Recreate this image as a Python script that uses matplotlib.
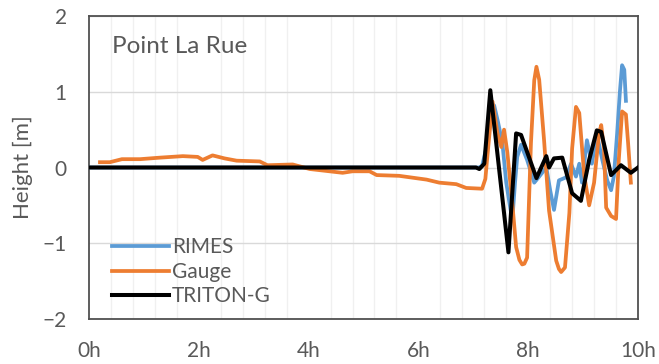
import numpy as np
import matplotlib
matplotlib.use("Agg")
import matplotlib.pyplot as plt

plt.rcParams['font.family'] = ['Lato', 'DejaVu Sans']

# time in hours, height in metres
rimes_t = [0.0, 7.10, 7.16, 7.25, 7.33, 7.38, 7.45, 7.53, 7.60, 7.71, 7.76, 7.80,
           7.87, 7.98, 8.11, 8.20, 8.33, 8.40, 8.47, 8.56, 8.69, 8.78, 8.87, 8.93,
           8.98, 9.07, 9.16, 9.25, 9.35, 9.44, 9.51, 9.56, 9.62, 9.67, 9.71, 9.75, 9.78]
rimes_h = [0.0, 0.0, 0.02, 0.30, 0.70, 0.82, 0.60, 0.32, -0.20, -0.70, -0.20, 0.14,
           0.30, 0.10, -0.20, -0.12, 0.00, -0.30, -0.56, -0.17, -0.13, 0.05, -0.12, 0.05,
           -0.20, 0.36, 0.05, 0.44, 0.10, -0.17, -0.30, -0.12, 0.45, 1.00, 1.35, 1.29, 0.88]

gauge_t = [0.20, 0.38, 0.60, 0.93, 1.29, 1.71, 1.98, 2.07, 2.25, 2.47, 2.69, 3.11,
           3.25, 3.71, 4.02, 4.38, 4.62, 4.80, 5.11, 5.24, 5.65, 6.15, 6.38, 6.69,
           6.87, 7.16, 7.22, 7.25, 7.35, 7.44, 7.51, 7.56, 7.62, 7.71, 7.78, 7.84, 7.89,
           7.93, 7.98, 8.05, 8.11, 8.15, 8.20, 8.29, 8.38, 8.51, 8.56, 8.60, 8.67, 8.75,
           8.80, 8.87, 8.93, 9.02, 9.11, 9.20, 9.29, 9.33, 9.38, 9.42, 9.51, 9.60,
           9.65, 9.71, 9.78, 9.82, 9.87]
gauge_h = [0.07, 0.07, 0.11, 0.11, 0.13, 0.15, 0.14, 0.10, 0.16, 0.12, 0.09, 0.08,
           0.03, 0.04, -0.02, -0.05, -0.07, -0.05, -0.05, -0.10, -0.11, -0.16, -0.20, -0.22,
           -0.27, -0.28, -0.15, 0.10, 0.87, 0.45, 0.27, 0.50, 0.20, -0.47, -1.05, -1.22, -1.28,
           -1.27, -1.19, 0.32, 1.15, 1.33, 1.16, 0.35, -0.57, -1.23, -1.34, -1.38, -1.32, -0.60,
           0.25, 0.80, 0.72, -0.10, -0.50, -0.20, 0.45, 0.56, 0.25, -0.53, -0.64, -0.68,
           0.10, 0.74, 0.70, 0.32, -0.20]

triton_t = [0.0, 7.05, 7.11, 7.20, 7.31, 7.64, 7.78, 7.87, 8.15, 8.33, 8.38, 8.47,
            8.62, 8.80, 8.96, 9.11, 9.25, 9.33, 9.51, 9.69, 9.87, 10.0]
triton_h = [0.0, 0.0, -0.02, 0.05, 1.02, -1.12, 0.45, 0.43, -0.14, 0.15, 0.0, 0.12,
            0.13, -0.34, -0.44, 0.10, 0.49, 0.47, -0.10, 0.03, -0.07, 0.0]

x_ticks = [0, 2, 4, 6, 8, 10]
x_labels = ["0h", "2h", "4h", "6h", "8h", "10h"]
y_ticks = [-2, -1, 0, 1, 2]

txt = "#595959"

fig = plt.figure(figsize=(6.59, 3.64), dpi=100)
ax = fig.add_axes([89 / 659, 45 / 364, 549 / 659, 303 / 364])

ax.plot(rimes_t, rimes_h, color="#5b9bd5", lw=2.7, label="RIMES", zorder=3)
ax.plot(gauge_t, gauge_h, color="#ed7d31", lw=2.7, label="Gauge", zorder=4)
ax.plot(triton_t, triton_h, color="black", lw=2.9, label="TRITON-G", zorder=5)

ax.set_xlim(0, 10)
ax.set_ylim(-2, 2)
ax.set_xticks(x_ticks)
ax.set_xticklabels(x_labels)
ax.set_yticks(y_ticks)
ax.set_xticks(np.arange(0, 10.01, 0.4), minor=True)
ax.grid(True, which="major", axis="y", color="#d9d9d9", lw=1)
ax.grid(True, which="minor", axis="x", color="#f0f0f0", lw=1)
ax.set_axisbelow(True)
ax.tick_params(which="both", length=0)
ax.tick_params(axis="x", pad=16, labelsize=15, labelcolor=txt)
ax.tick_params(axis="y", pad=16, labelsize=15, labelcolor=txt)
for s in ax.spines.values():
    s.set_color("#505050")
    s.set_linewidth(1.3)

ax.set_ylabel("Height [m]", fontsize=16, color=txt)
ax.yaxis.set_label_coords(-0.102, 0.5)

ax.text(0.042, 0.878, "Point La Rue", transform=ax.transAxes, fontsize=17.5,
        color=txt, ha="left", va="baseline")

ax.legend(loc="lower left", bbox_to_anchor=(0.02, 0.0), frameon=False,
          fontsize=15, handlelength=2.7, handletextpad=0.15, labelspacing=0.22,
          borderaxespad=0.2, labelcolor=txt)

fig.savefig("out.png", dpi=100)
